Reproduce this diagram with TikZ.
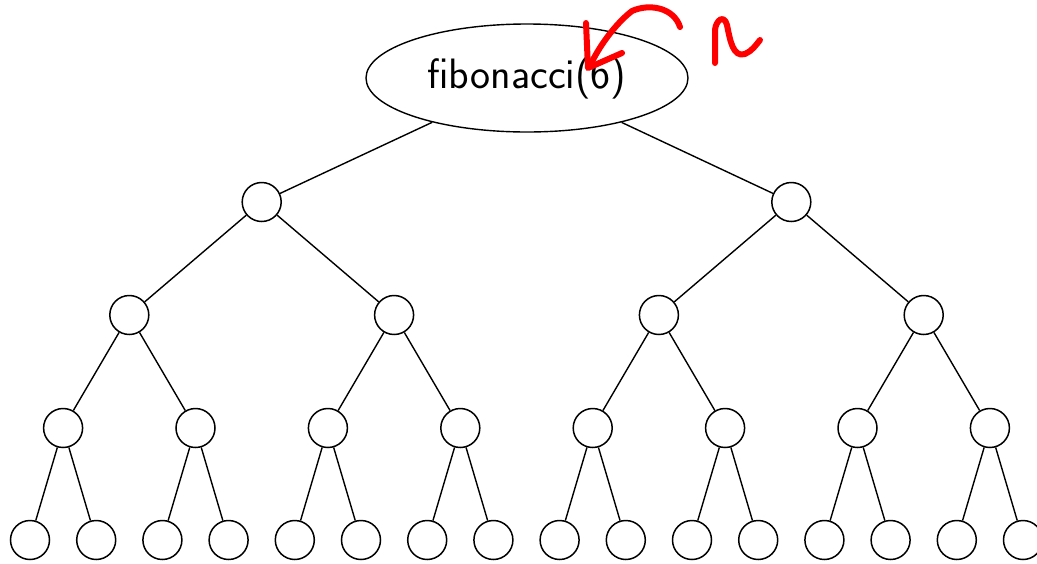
\documentclass[tikz,border=0pt]{standalone}
\usepackage{fontspec}
\usetikzlibrary{shapes.geometric}
\begin{document}
\begin{tikzpicture}[x=1pt,y=-1pt,
  call/.style={draw, circle, minimum size=39pt, inner sep=0pt, line width=1.5pt},
  edge/.style={line width=1.4pt},
  ink/.style={draw=red, line width=6pt, line cap=round, line join=round}]
\useasboundingbox (0,0) rectangle (1037,563);

% root call
\node[draw, ellipse, minimum width=322pt, minimum height=108pt, inner sep=0pt,
      line width=1.4pt, font=\sffamily\fontsize{42.5}{50}\selectfont]
      (root) at (527,78) {fibonacci(6)};

% recursive calls, level by level
\foreach \k in {0,...,1} \node[call] (d1-\k) at ({261.7+529.6*\k},202) {};
\foreach \k in {0,...,3} \node[call] (d2-\k) at ({129.3+264.8*\k},315) {};
\foreach \k in {0,...,7} \node[call] (d3-\k) at ({63.1+132.4*\k},428) {};
\foreach \k in {0,...,15} \node[call] (d4-\k) at ({30+66.2*\k},540) {};

% edges
\draw[edge] (root) -- (d1-0);
\draw[edge] (root) -- (d1-1);
\foreach \p/\c in {1/2,2/3,3/4}{
  \pgfmathtruncatemacro\n{2^\p-1}
  \foreach \k in {0,...,\n}{
    \pgfmathtruncatemacro\a{2*\k}
    \pgfmathtruncatemacro\b{2*\k+1}
    \draw[edge] (d\p-\k) -- (d\c-\a);
    \draw[edge] (d\p-\k) -- (d\c-\b);
  }
}

% handwritten annotation
\draw[ink] (680,27) .. controls (674,8) and (650,3) .. (632,11)
           .. controls (615,24) and (598,48) .. (590,66);
\draw[ink] (586,23) -- (588,68) -- (622,53);
\draw[ink] (715,63) -- (715,30) .. controls (716,20) and (724,14) .. (727,25)
           .. controls (730,40) and (733,58) .. (745,54)
           .. controls (752,51) and (756,45) .. (760,40);
\end{tikzpicture}
\end{document}
